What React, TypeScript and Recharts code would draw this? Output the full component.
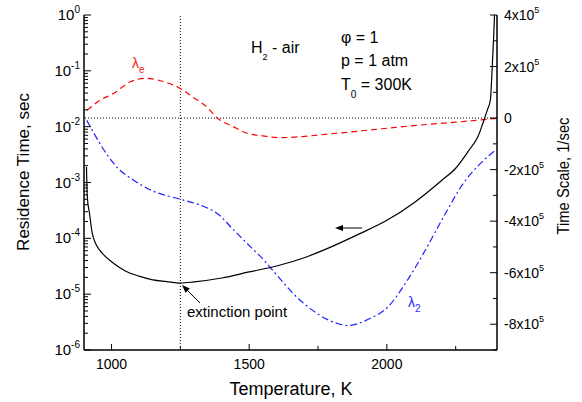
import { Line, LineChart, ReferenceLine, XAxis, YAxis } from "recharts";

// residence time (left axis, log) vs temperature
const tempResidence = [909, 912, 920, 929, 945, 965, 1000, 1050, 1100, 1150, 1200, 1250, 1300, 1400, 1500, 1600, 1700, 1800, 1900, 2000, 2100, 2200, 2250, 2300, 2330, 2350, 2365, 2376, 2382, 2388, 2391];
const residenceTime = [1.9e-3, 5.5e-4, 2.8e-4, 1.3e-4, 7.6e-5, 5.5e-5, 3.8e-5, 2.6e-5, 2.1e-5, 1.8e-5, 1.68e-5, 1.58e-5, 1.66e-5, 1.95e-5, 2.5e-5, 3.2e-5, 4.5e-5, 7.1e-5, 1.2e-4, 2.1e-4, 4.4e-4, 1.1e-3, 1.8e-3, 3.9e-3, 6.5e-3, 1.2e-2, 2.0e-2, 3.0e-2, 0.1, 0.42, 1.0];

// lambda_e (right axis)
const tempLambdaE = [911, 958, 1007, 1067, 1122, 1194, 1249, 1300, 1347, 1384, 1440, 1493, 1550, 1613, 1700, 1787, 1867, 1940, 2111, 2250, 2351, 2400];
const lambdaE = [3.0e4, 6.9e4, 9.5e4, 1.4e5, 1.54e5, 1.4e5, 1.15e5, 7.8e4, 4.2e4, 0, -3.2e4, -5.9e4, -6.9e4, -7.6e4, -7.1e4, -6.2e4, -5.4e4, -4.6e4, -2.8e4, -1.6e4, -6e3, -1e3];

// lambda_2 (right axis)
const tempLambda2 = [910, 936, 973, 1020, 1082, 1144, 1253, 1325, 1384, 1445, 1507, 1554, 1576, 1685, 1820, 1856, 1940, 2002, 2074, 2133, 2205, 2278, 2340, 2394];
const lambda2 = [-9e3, -5.9e4, -1.25e5, -1.91e5, -2.42e5, -2.8e5, -3.16e5, -3.39e5, -3.7e5, -4.36e5, -5.02e5, -5.52e5, -5.79e5, -7.07e5, -7.97e5, -8.05e5, -7.77e5, -7.35e5, -6.3e5, -5.25e5, -3.85e5, -2.53e5, -1.76e5, -1.25e5];

const tempTicks = [1000, 1250, 1500, 1750, 2000, 2250];
const tempLabels = [1000, 1500, 2000];
const decades = [-6, -5, -4, -3, -2, -1, 0];
const scaleTicks = [-9e5, -8e5, -7e5, -6e5, -5e5, -4e5, -3e5, -2e5, -1e5, 0, 1e5, 2e5, 3e5, 4e5];
const scaleLabels = [-8e5, -6e5, -4e5, -2e5, 0, 2e5, 4e5];
const extinctionT = 1250;

const residenceData = tempResidence.map((t, i) => ({ t, v: residenceTime[i] }));
const lambdaEData = tempLambdaE.map((t, i) => ({ t, v: lambdaE[i] }));
const lambda2Data = tempLambda2.map((t, i) => ({ t, v: lambda2[i] }));

const logTicks = decades.flatMap((d) =>
  d === 0 ? [1] : [1, 2, 3, 4, 5, 6, 7, 8, 9].map((k) => k * Math.pow(10, d))
);

const FONT = '"Liberation Sans", Arial, sans-serif';

const BottomTick = (props: any) => {
  const { x, y, payload } = props;
  const major = tempLabels.includes(payload.value);
  return (
    <g>
      <line x1={x} x2={x} y1={y} y2={y - (major ? 6 : 4)} stroke="#000" />
      {major && (
        <text x={x} y={y + 19} textAnchor="middle" fontSize={14} fontFamily={FONT} fill="#000">
          {payload.value}
        </text>
      )}
    </g>
  );
};

const TopTick = (props: any) => {
  const { x, y, payload } = props;
  const major = tempLabels.includes(payload.value);
  return <line x1={x} x2={x} y1={y} y2={y + (major ? 6 : 4)} stroke="#000" />;
};

const LeftTick = (props: any) => {
  const { x, y, payload } = props;
  const e = Math.log10(payload.value);
  const major = Math.abs(e - Math.round(e)) < 1e-6;
  return (
    <g>
      <line x1={x} x2={x + (major ? 7 : 4)} y1={y} y2={y} stroke="#000" />
      {major && (
        <text x={x - 4} y={y + 5} textAnchor="end" fontSize={15} fontFamily={FONT} fill="#000">
          10<tspan dy={-7} fontSize={10}>{Math.round(e)}</tspan>
        </text>
      )}
    </g>
  );
};

const RightTick = (props: any) => {
  const { x, y, payload } = props;
  const v = payload.value;
  const major = scaleLabels.includes(v);
  return (
    <g>
      <line x1={x} x2={x - (major ? 7 : 4)} y1={y} y2={y} stroke="#000" />
      {major && (
        <text x={x + 7} y={y + 5} textAnchor="start" fontSize={14} fontFamily={FONT} fill="#000">
          {v === 0 ? "0" : `${v / 1e5}x10`}
          {v !== 0 && <tspan dy={-7} fontSize={9}>5</tspan>}
        </text>
      )}
    </g>
  );
};

export default function App() {
  return (
    <div style={{ position: "relative", width: 582, height: 402, fontFamily: FONT }}>
      <style>{"body{margin:0}"}</style>
      <LineChart width={582} height={402} margin={{ top: 15, right: 0, bottom: 0, left: 0 }}>
        <XAxis
          dataKey="t"
          type="number"
          domain={[900, 2400]}
          ticks={tempTicks}
          interval={0}
          allowDataOverflow
          height={52}
          tickSize={0}
          tickMargin={0}
          tick={BottomTick}
          axisLine={{ stroke: "#000", strokeWidth: 1.5 }}
        />
        <XAxis
          xAxisId="top"
          orientation="top"
          dataKey="t"
          type="number"
          domain={[900, 2400]}
          ticks={tempTicks}
          interval={0}
          allowDataOverflow
          height={0}
          tickSize={0}
          tickMargin={0}
          tick={TopTick}
          axisLine={{ stroke: "#000", strokeWidth: 1.5 }}
        />
        <YAxis
          yAxisId="left"
          scale="log"
          domain={[1e-6, 1]}
          ticks={logTicks}
          interval={0}
          allowDataOverflow
          width={84}
          tickSize={0}
          tickMargin={0}
          tick={LeftTick}
          axisLine={{ stroke: "#000", strokeWidth: 1.5 }}
        />
        <YAxis
          yAxisId="right"
          orientation="right"
          type="number"
          domain={[-9e5, 4e5]}
          ticks={scaleTicks}
          interval={0}
          allowDataOverflow
          width={85}
          tickSize={0}
          tickMargin={0}
          tick={RightTick}
          axisLine={{ stroke: "#000", strokeWidth: 1.5 }}
        />
        <ReferenceLine yAxisId="right" y={0} stroke="#000" strokeDasharray="1 2" />
        <ReferenceLine yAxisId="left" x={extinctionT} stroke="#000" strokeDasharray="1 2" />
        <Line
          yAxisId="right"
          data={lambdaEData}
          dataKey="v"
          type="monotone"
          stroke="#ff0000"
          strokeWidth={1.2}
          strokeDasharray="6 4"
          dot={false}
          isAnimationActive={false}
        />
        <Line
          yAxisId="right"
          data={lambda2Data}
          dataKey="v"
          type="monotone"
          stroke="#2020ff"
          strokeWidth={1.2}
          strokeDasharray="7 3 2 3"
          dot={false}
          isAnimationActive={false}
        />
        <Line
          yAxisId="left"
          data={residenceData}
          dataKey="v"
          type="monotone"
          stroke="#000"
          strokeWidth={1.2}
          dot={false}
          isAnimationActive={false}
        />
      </LineChart>
      <svg
        width={582}
        height={402}
        style={{ position: "absolute", left: 0, top: 0, pointerEvents: "none" }}
        fontFamily={FONT}
      >
        <text transform="translate(29,172) rotate(-90)" textAnchor="middle" fontSize={17}>
          Residence Time, sec
        </text>
        <text transform="translate(569,176) rotate(-90)" textAnchor="middle" fontSize={16} textLength={117} lengthAdjust="spacingAndGlyphs">
          Time Scale, 1/sec
        </text>
        <text x={291} y={395} textAnchor="middle" fontSize={18}>
          Temperature, K
        </text>

        <text x={251} y={53} fontSize={16}>
          H<tspan dy={7} fontSize={9}>2</tspan>
          <tspan dy={-7}> - air</tspan>
        </text>
        <text x={341} y={42.5} fontSize={16}>φ = 1</text>
        <text x={341} y={66} fontSize={16}>p = 1 atm</text>
        <text x={341} y={89.5} fontSize={16}>
          T<tspan dy={8} fontSize={10}>0</tspan>
          <tspan dy={-8}> = 300K</tspan>
        </text>

        <text x={132} y={68} fontSize={14} fill="#ff2020">
          λ<tspan dy={5} fontSize={10}>e</tspan>
        </text>
        <text x={408} y={307} fontSize={14} fill="#2a2aff">
          λ<tspan dy={5} fontSize={10}>2</tspan>
        </text>

        <text x={187} y={317} fontSize={15}>extinction point</text>
        <line x1={200} y1={303} x2={186} y2={289} stroke="#000" strokeWidth={1} />
        <polygon points="182,285 189.8,288.5 185.5,292.8" fill="#000" />

        <line x1={362} y1={228} x2={340} y2={228} stroke="#555" strokeWidth={1.5} />
        <polygon points="335,228 343,225 343,231" fill="#000" />
      </svg>
    </div>
  );
}
